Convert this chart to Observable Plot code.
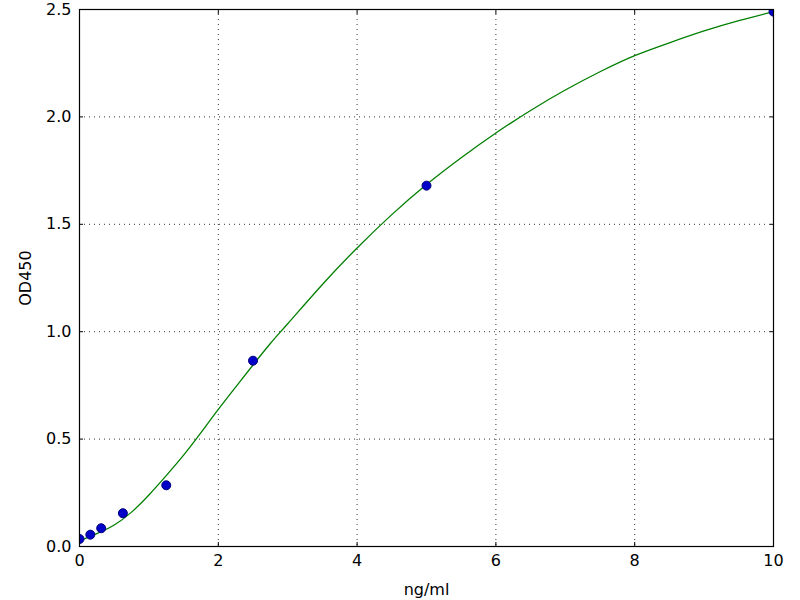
<!DOCTYPE html>
<html>
<head>
<meta charset="utf-8">
<script src="https://cdn.jsdelivr.net/npm/d3@7"></script>
<script src="https://cdn.jsdelivr.net/npm/@observablehq/plot@0.6"></script>
<style>
  body { margin: 0; background: #fff; }
  #chart svg { display: block; }
</style>
</head>
<body>
<div id="chart"></div>
<script>
// standard points (concentration ng/ml, OD450)
const conc = [0, 0.156, 0.3125, 0.625, 1.25, 2.5, 5, 10]
const od = [0.035, 0.055, 0.085, 0.155, 0.285, 0.865, 1.68, 2.49]

// fitted curve
const fitX = [0, 0.25, 0.5, 0.75, 1, 1.25, 1.5, 1.75, 2, 2.25, 2.5, 2.75, 3, 3.5, 4, 4.5, 5, 5.5, 6, 6.5, 7, 7.5, 8, 8.5, 9, 9.5, 10]
const fitY = [0.027, 0.06, 0.1, 0.16, 0.24, 0.33, 0.425, 0.53, 0.638, 0.742, 0.845, 0.945, 1.037, 1.22, 1.39, 1.545, 1.685, 1.81, 1.925, 2.03, 2.125, 2.21, 2.285, 2.345, 2.40, 2.448, 2.49]

const xTicks = [0, 2, 4, 6, 8, 10]
const yTicks = [0, 0.5, 1.0, 1.5, 2.0, 2.5]

const points = conc.map((c, i) => ({c, od: od[i]}))
const fit = fitX.map((x, i) => ({x, y: fitY[i]}))

const chart = Plot.plot({
  width: 800,
  height: 600,
  marginLeft: 79,
  marginRight: 27,
  marginTop: 9,
  marginBottom: 54,
  style: {fontFamily: "DejaVu Sans", fontSize: "16px", color: "black"},
  x: {domain: [0, 10]},
  y: {domain: [0, 2.5]},
  marks: [
    Plot.gridX(xTicks, {stroke: "black", strokeOpacity: 0.8, strokeWidth: 1, strokeDasharray: "1,4"}),
    Plot.gridY(yTicks, {stroke: "black", strokeOpacity: 0.8, strokeWidth: 1, strokeDasharray: "1,4"}),
    Plot.line(fit, {x: "x", y: "y", stroke: "#007f00", strokeWidth: 1.3, curve: "natural"}),
    Plot.dot(points, {x: "c", y: "od", r: 4.5, fill: "#0000c8", stroke: "#00007a", strokeWidth: 1, clip: true}),
    // matplotlib-style inward ticks on all sides
    Plot.axisX(xTicks, {anchor: "bottom", tickSize: -4, tickPadding: 12, tickFormat: d => d, label: "ng/ml", labelAnchor: "center", labelArrow: "none", labelOffset: 48}),
    Plot.axisX(xTicks, {anchor: "top", tickSize: -4, tickFormat: () => "", label: null}),
    Plot.axisY(yTicks, {anchor: "left", tickSize: -4, tickPadding: 12, tickFormat: d3.format(".1f"), label: "OD450", labelAnchor: "center", labelArrow: "none", labelOffset: 60}),
    Plot.axisY(yTicks, {anchor: "right", tickSize: -4, tickFormat: () => "", label: null}),
    Plot.frame({stroke: "black", strokeWidth: 1.2})
  ]
})

d3.select('#chart').append(() => chart)
</script>
</body>
</html>
